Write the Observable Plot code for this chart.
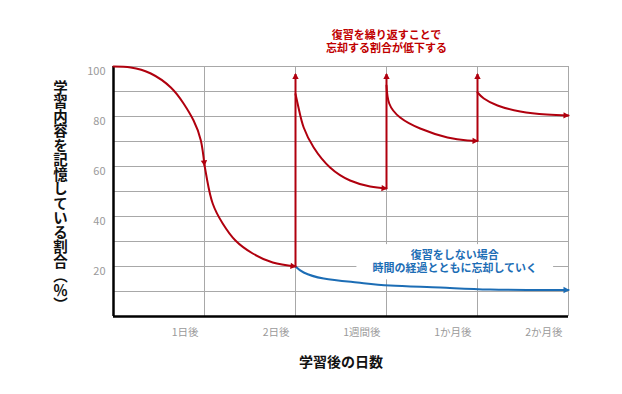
<!DOCTYPE html>
<html>
<head>
<meta charset="utf-8">
<script src="https://cdn.jsdelivr.net/npm/d3@7"></script>
<script src="https://cdn.jsdelivr.net/npm/@observablehq/plot@0.6"></script>
<style>
  body { margin: 0; background: #fff; }
</style>
</head>
<body>
<div id="chart"></div>
<script>
// ---- data ----
const xTicks = [1, 2, 3, 4, 5];
const xTickLabels = ["1日後", "2日後", "1週間後", "1か月後", "2か月後"];
const yTicks = [20, 40, 60, 80, 100];
const yGrid = [10, 20, 30, 40, 50, 60, 70, 80, 90, 100];

const firstDay = [[0, 100], [0.19, 99.6], [0.41, 97.2], [0.63, 91.6], [0.77, 85.2], [0.88, 78.4], [0.96, 70.4], [1, 60.5]];
const secondDay = [[1, 60.5], [1.03, 54.4], [1.09, 45.2], [1.2, 37.2], [1.34, 30.4], [1.53, 25.2], [1.75, 21.6], [2, 20]];
const afterReview1 = [[2, 89], [2.04, 82.4], [2.09, 75.6], [2.2, 67.6], [2.38, 59.6], [2.6, 54.4], [2.82, 52], [3, 51.2]];
const afterReview2 = [[3, 92.4], [3.03, 85.2], [3.15, 79.6], [3.37, 75.2], [3.67, 71.6], [3.89, 70.4], [4, 70.2]];
const afterReview3 = [[4, 89.6], [4.07, 87.2], [4.22, 84.4], [4.47, 82], [4.76, 80.8], [5, 80.4]];
const noReview = [[2, 20], [2.09, 17.6], [2.31, 15.2], [2.68, 13.6], [3.04, 12.4], [3.59, 11.6], [4.14, 10.8], [5, 10.6]];

const reviewX = [2, 3, 4];
const reviewFrom = [20, 51.2, 70.2];
const reviewTo = [97, 97, 97];

const xTitle = "学習後の日数";
const yTitle = "学習内容を記憶している割合（％）";
const redNote = "復習を繰り返すことで\n忘却する割合が低下する";
const redNoteX = 3;
const blueNote = "復習をしない場合\n時間の経過とともに忘却していく";
const blueNoteX = 3.75;
const blueNoteY = 22;

// ---- styles ----
const RED = "#b0000e";
const RED_TEXT = "#c00000";
const BLUE = "#1c6db5";
const GRID = "#a8a8a8";
const TICK = "#9a9a9a";
const FONT = "'Noto Sans CJK JP', 'Noto Sans', sans-serif";

const labelByTick = new Map(xTicks.map((t, i) => [t, xTickLabels[i]]));
const reviews = reviewX.map((x, i) => ({x, y1: reviewFrom[i], y2: reviewTo[i]}));
const redSegments = [firstDay, secondDay, afterReview1, afterReview2, afterReview3];

const lineOpts = {x: d => d[0], y: d => d[1], stroke: RED, strokeWidth: 2, curve: "natural", markerEnd: "arrow"};

const svg = Plot.plot({
  width: 622,
  height: 394,
  marginLeft: 113,
  marginRight: 54,
  marginTop: 66,
  marginBottom: 78,
  style: {fontFamily: FONT, background: "#fff"},
  x: {domain: [0, 5]},
  y: {domain: [0, 100]},
  marks: [
    Plot.ruleY(yGrid, {stroke: GRID, strokeWidth: 1}),
    Plot.ruleX(xTicks, {stroke: GRID, strokeWidth: 1}),
    Plot.text([blueNote], {x: [blueNoteX], y: [blueNoteY], text: d => d, fill: BLUE, fontWeight: "bold", fontSize: 11, lineHeight: 1.2}),
    Plot.text([redNote], {x: [redNoteX], frameAnchor: "top", lineAnchor: "middle", dy: -25, text: d => d, fill: RED_TEXT, fontWeight: "bold", fontSize: 11, lineHeight: 1.12}),
    Plot.ruleX([0], {stroke: "#000", strokeWidth: 2.5}),
    Plot.ruleY([0], {stroke: "#000", strokeWidth: 2.5}),
    Plot.axisY(yTicks, {tickSize: 0, tickPadding: 8, dy: 5, fill: TICK, fontSize: 11, label: null}),
    Plot.axisX(xTicks, {tickSize: 0, tickPadding: 12, tickFormat: d => labelByTick.get(d), textAnchor: "end", dx: -6, fill: TICK, fontSize: 10.5, label: null}),
    Plot.line(noReview, {...lineOpts, stroke: BLUE}),
    ...redSegments.map(seg => Plot.line(seg, lineOpts)),
    Plot.link(reviews, {x1: "x", x2: "x", y1: "y1", y2: "y2", stroke: RED, strokeWidth: 2, markerEnd: "arrow"}),
    Plot.text([xTitle], {frameAnchor: "bottom", lineAnchor: "middle", dy: 46, text: d => d, fontWeight: "bold", fontSize: 14, fill: "#111"}),
    Plot.text([yTitle], {frameAnchor: "left", dx: -53, text: d => d, fontWeight: "bold", fontSize: 14.5, fill: "#111"})
  ]
});

document.getElementById("chart").appendChild(svg);

// filled triangular arrowheads
d3.select(svg).selectAll("marker").each(function () {
  const m = d3.select(this);
  const color = m.attr("stroke");
  m.attr("viewBox", "-6 -4 8 8")
    .attr("markerWidth", 4)
    .attr("markerHeight", 4)
    .attr("fill", color)
    .attr("stroke", "none");
  m.select("path").attr("d", "M-5,-3.2L1,0L-5,3.2Z");
});

// vertical (tategaki) y title
d3.select(svg).selectAll("text").filter(function () { return this.textContent === yTitle; })
  .attr("dy", null)
  .style("writing-mode", "vertical-rl")
  .style("text-orientation", "mixed")
  .attr("text-anchor", "middle");

// white box behind the blue note
d3.select(svg).selectAll("text").filter(function () { return this.textContent.startsWith("復習をしない"); })
  .each(function () {
    const b = this.getBBox();
    const g = this.parentNode;
    const t = this.getAttribute("transform");
    const r = document.createElementNS("http://www.w3.org/2000/svg", "rect");
    r.setAttribute("x", b.x - 16);
    r.setAttribute("y", b.y - 2);
    r.setAttribute("width", b.width + 32);
    r.setAttribute("height", b.height + 6);
    r.setAttribute("fill", "#fff");
    if (t) r.setAttribute("transform", t);
    g.insertBefore(r, this);
  });
</script>
</body>
</html>
